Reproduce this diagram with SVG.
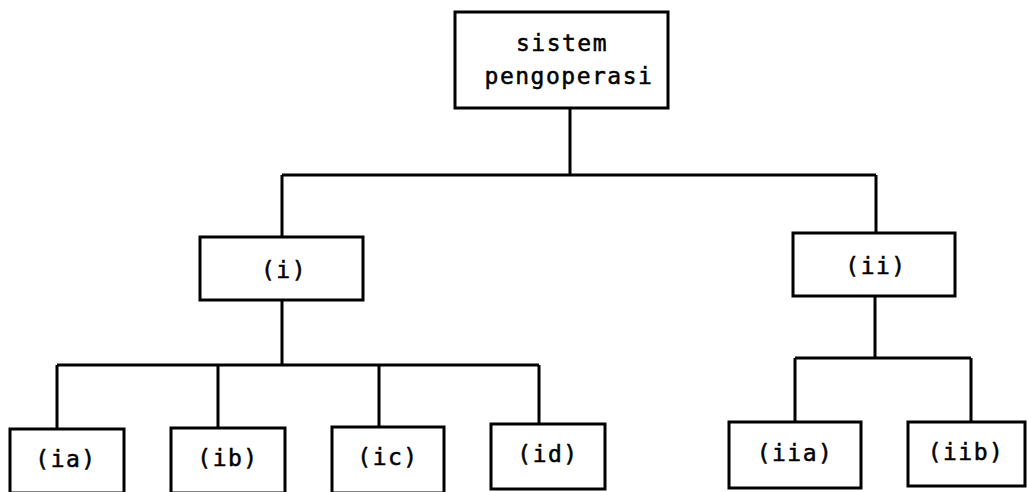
<svg xmlns="http://www.w3.org/2000/svg" width="1027" height="492" viewBox="0 0 1027 492">
<style>
.box{fill:#fff;stroke:#000;stroke-width:3}
.con{fill:none;stroke:#000;stroke-width:3}
text{font-family:"DejaVu Sans Mono","Liberation Mono",monospace;font-size:23px;fill:#000;stroke:#000;stroke-width:0.5;text-anchor:middle;letter-spacing:1.5px}
</style>
<rect width="1027" height="492" fill="#fff"/>
<g id="connectors">
<path class="con" d="M570 108V175M282 175H876M282 175V237M876 175V233"/>
<path class="con" d="M282 300V365M57 365H539M57 365V429M218 365V428M379 365V427M539 365V424"/>
<path class="con" d="M875 296V358M795 358H971M795 358V422M971 358V422"/>
</g>
<g id="root"><rect class="box" x="455" y="12" width="213" height="96"/><text x="562" y="51">sistem</text><text x="569" y="84">pengoperasi</text></g>
<g id="n-i"><rect class="box" x="200" y="237" width="163" height="63"/><text x="284" y="278">(i)</text></g>
<g id="n-ii"><rect class="box" x="793" y="233" width="162" height="63"/><text x="876" y="274">(ii)</text></g>
<g id="n-ia"><rect class="box" x="10" y="429" width="114" height="64"/><text x="66" y="467">(ia)</text></g>
<g id="n-ib"><rect class="box" x="171" y="428" width="114" height="65"/><text x="228" y="466">(ib)</text></g>
<g id="n-ic"><rect class="box" x="332" y="427" width="112" height="66"/><text x="388" y="465">(ic)</text></g>
<g id="n-id"><rect class="box" x="491" y="424" width="114" height="65"/><text x="548" y="462">(id)</text></g>
<g id="n-iia"><rect class="box" x="729" y="422" width="132" height="66"/><text x="795" y="461">(iia)</text></g>
<g id="n-iib"><rect class="box" x="908" y="422" width="117" height="64"/><text x="966" y="460">(iib)</text></g>
</svg>
